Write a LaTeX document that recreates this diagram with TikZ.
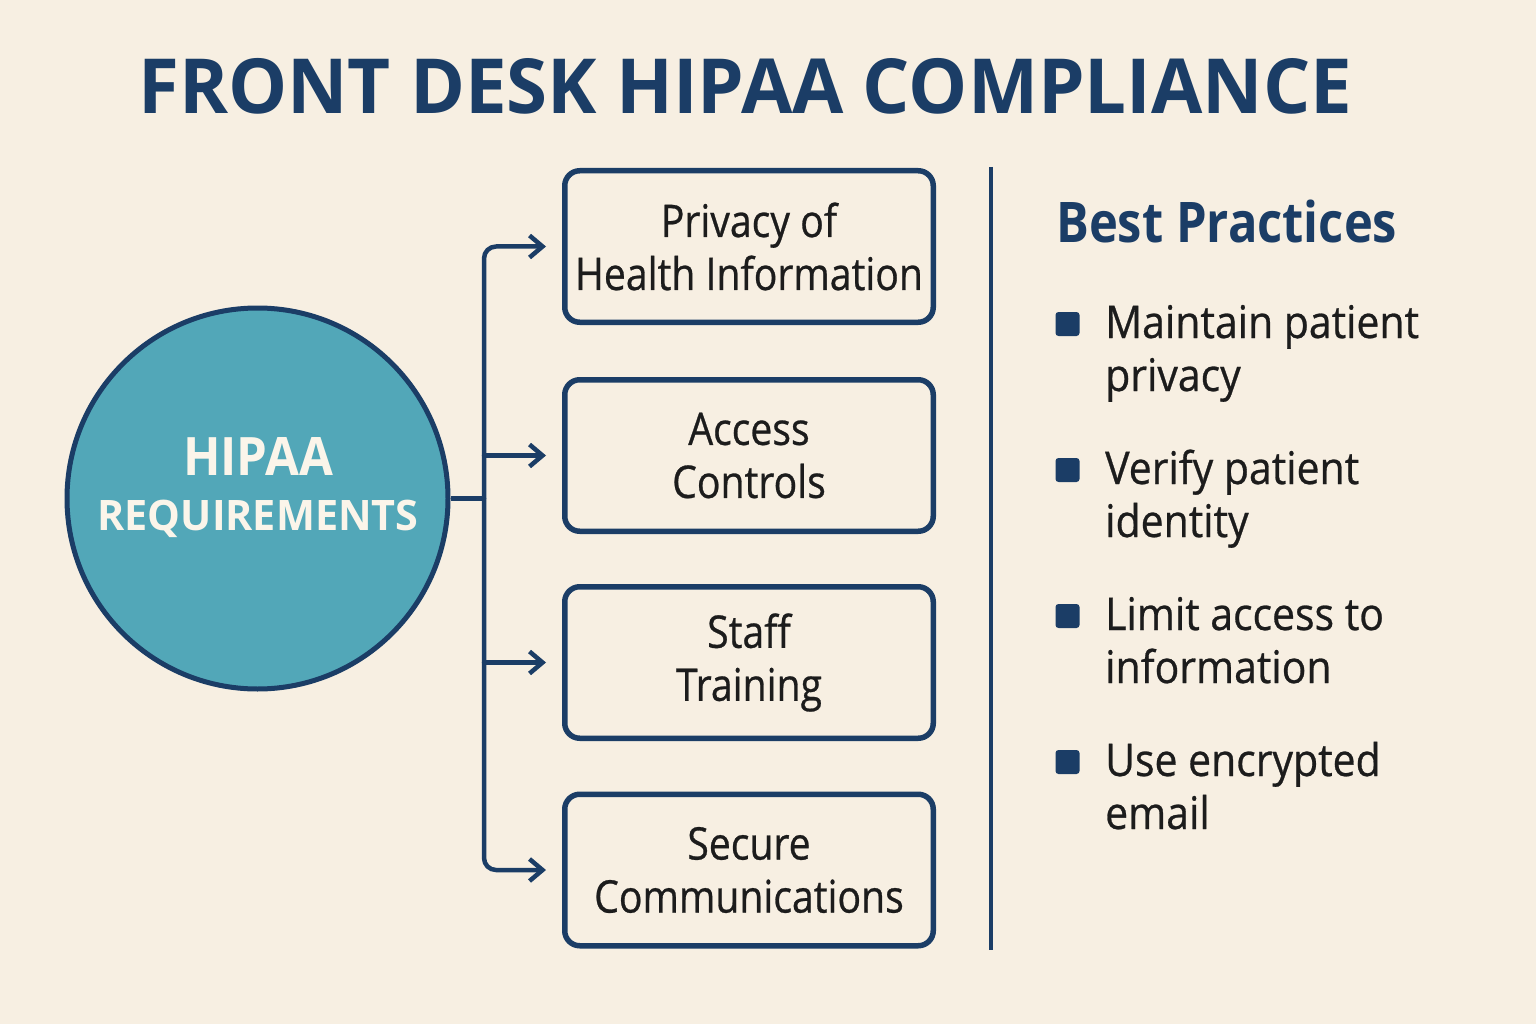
\documentclass[tikz,border=0pt]{standalone}
\usepackage{graphicx}
\usepackage{fontspec}
\setmainfont{Open Sans}[FakeStretch=0.87]
\newfontfamily\boxfam{Open Sans}[FakeStretch=0.87, FakeBold=0.6]
\newfontfamily\bulfam{Open Sans}[FakeStretch=0.91, FakeBold=0.6]
\usetikzlibrary{arrows.meta}
\definecolor{bg}{HTML}{F7EFE2}
\definecolor{navy}{HTML}{1B3D66}
\definecolor{teal}{HTML}{52A7B8}
\definecolor{ink}{HTML}{1C1C1C}
\definecolor{cream}{HTML}{FBF5EA}
\newcommand{\fitto}[2]{\resizebox{#1}{\height}{#2}}
\newcommand{\boxfont}{\boxfam\fontsize{45}{53}\selectfont}
\newcommand{\bulfont}{\bulfam\fontsize{45}{53}\selectfont}
\begin{document}
\begin{tikzpicture}[x=1pt,y=-1pt,
  conn/.style={draw=navy, line width=4.5pt, rounded corners=12pt},
  arr/.style={conn, -{Straight Barb[length=13pt,width=22pt]}, line cap=round, line join=round},
  boxst/.style={draw=navy, line width=5.5pt, rounded corners=15pt, minimum width=368.5pt, minimum height=151.5pt, align=center, text=ink, font=\boxfont, inner sep=0pt},
  circst/.style={circle, draw=navy, line width=5pt, fill=teal, minimum size=381pt, inner sep=0pt},
  bul/.style={rectangle, fill=navy, rounded corners=3pt, minimum size=24pt, inner sep=0pt},
  btxt/.style={anchor=base west, inner sep=0pt, text=ink, font=\bulfont},
  plain/.style={inner sep=0pt}
]
% background / bounding box
\fill[bg] (0,0) rectangle (1536,1024);
\useasboundingbox (0,0) rectangle (1536,1024);

% title
\node[plain, anchor=base west, text=navy] (title) at (138,114)
  {\fitto{1214pt}{\fontsize{76}{80}\selectfont\bfseries FRONT DESK HIPAA COMPLIANCE}};

% circle
\node[circst] (hip) at (257.5,498.5) {};
\node[plain, anchor=base, text=cream] (hipa) at (258,475)
  {\fitto{150pt}{\fontsize{53}{60}\selectfont\bfseries HIPAA}};
\node[plain, anchor=base, text=cream] (hipb) at (258,530)
  {\fitto{321pt}{\fontsize{42}{50}\selectfont\bfseries REQUIREMENTS}};

% boxes
\node[boxst] (p1) at (749,246.5) {Privacy of\\Health Information};
\node[boxst] (p2) at (749,455.5) {Access\\Controls};
\node[boxst] (p3) at (749,662.5) {Staff\\Training};
\node[boxst] (p4) at (749,870) {Secure\\Communications};

% connectors
\coordinate (j) at (484,498.5);
\draw[conn] (hip.east) -- (j);
\draw[arr] (j) |- ([xshift=-16pt]p1.west);
\draw[arr] (j) |- ([xshift=-16pt]p4.west);
\draw[arr] (j |- p2.west) -- ([xshift=-16pt]p2.west);
\draw[arr] (j |- p3.west) -- ([xshift=-16pt]p3.west);

% divider
\coordinate (d1) at (991,167);
\coordinate (d2) at (991,950);
\draw[navy, line width=3.5pt] (d1) -- (d2);

% best practices
\node[plain, anchor=base west, text=navy] (bp) at (1056,243)
  {\fitto{341pt}{\fontsize{56}{60}\selectfont\bfseries Best Practices}};

\node[bul] (b1) at (1067.5,324) {};
\node[btxt] (t1a) at (1105,338) {Maintain patient};
\node[btxt] (t1b) at (1105,391) {privacy};

\node[bul] (b2) at (1067.5,470) {};
\node[btxt] (t2a) at (1105,484) {Verify patient};
\node[btxt] (t2b) at (1105,537) {identity};

\node[bul] (b3) at (1067.5,616) {};
\node[btxt] (t3a) at (1105,630) {Limit access to};
\node[btxt] (t3b) at (1105,683) {information};

\node[bul] (b4) at (1067.5,762) {};
\node[btxt] (t4a) at (1105,776) {Use encrypted};
\node[btxt] (t4b) at (1105,829) {email};
\end{tikzpicture}
\end{document}
